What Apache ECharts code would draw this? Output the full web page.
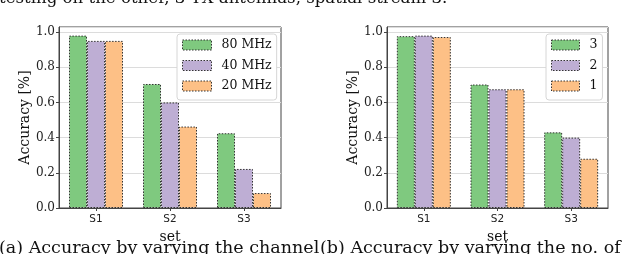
<!DOCTYPE html>
<html><head><meta charset="utf-8">
<script src="https://cdn.jsdelivr.net/npm/echarts@6/dist/echarts.min.js"></script>
<style>html,body{margin:0;padding:0;background:#fff;}#c{width:640px;height:254px;}</style>
</head><body><div id="c"></div>
<script>
const categories = ['S1', 'S2', 'S3'];
const namesA = ['80 MHz', '40 MHz', '20 MHz'];
const valuesA = [
  [0.98, 0.705, 0.425],
  [0.95, 0.60, 0.222],
  [0.95, 0.463, 0.085]
];
const namesB = ['3', '2', '1'];
const valuesB = [
  [0.977, 0.702, 0.43],
  [0.98, 0.675, 0.40],
  [0.972, 0.675, 0.28]
];
const yTicks = [0, 0.2, 0.4, 0.6, 0.8, 1.0];
const topText = 'testing on the other, 3 TX antennas, spatial stream 3.';
const captionA = '(a) Accuracy by varying the channel';
const captionB = '(b) Accuracy by varying the no. of';

const colors = ['#7fc97f', '#beaed4', '#fdc086'];
const serif = '"DejaVu Serif", serif';
const sans = '"DejaVu Sans", sans-serif';
const dots = [1.5, 1.5];

const grids = [
  {left: 59, top: 27, width: 222, height: 181},
  {left: 387, top: 27, width: 221, height: 181}
];

function xAx(i) {
  return {
    type: 'category', data: categories, gridIndex: i,
    name: 'set', nameLocation: 'middle', nameGap: 19,
    nameTextStyle: {fontFamily: serif, fontSize: 14, color: '#111'},
    axisLine: {show: true, lineStyle: {color: '#444', width: 1}},
    axisTick: {show: true, alignWithLabel: true, length: 3, lineStyle: {color: '#444'}},
    axisLabel: {fontFamily: sans, fontSize: 10.5, color: '#222', margin: 6},
    splitLine: {show: false}
  };
}
function yAx(i) {
  return {
    type: 'value', gridIndex: i, min: 0, max: 1.029, interval: 0.2,
    name: 'Accuracy [%]', nameLocation: 'middle', nameGap: 25, nameRotate: 90,
    nameTextStyle: {fontFamily: serif, fontSize: 14, color: '#111'},
    axisLine: {show: true, lineStyle: {color: '#444', width: 1}},
    axisTick: {show: true, length: 3, lineStyle: {color: '#444'}},
    axisLabel: {
      fontFamily: serif, fontSize: 12, color: '#222', margin: 4, showMaxLabel: false,
      formatter: v => (yTicks.some(t => Math.abs(t - v) < 1e-6) ? v.toFixed(1) : '')
    },
    splitLine: {show: true, lineStyle: {color: '#dcdcdc', width: 1}}
  };
}

const series = [];
namesA.forEach((n, k) => series.push({
  name: n, type: 'bar', xAxisIndex: 0, yAxisIndex: 0, data: valuesA[k],
  barWidth: 18, barGap: '0%',
  itemStyle: {color: colors[k], borderColor: '#333', borderWidth: 1, borderType: dots}
}));
namesB.forEach((n, k) => series.push({
  name: n, type: 'bar', xAxisIndex: 1, yAxisIndex: 1, data: valuesB[k],
  barWidth: 18, barGap: '0%',
  itemStyle: {color: colors[k], borderColor: '#333', borderWidth: 1, borderType: dots}
}));

const legendCommon = {
  orient: 'vertical', itemGap: 6.5, icon: 'rect',
  backgroundColor: '#fff', borderColor: '#d6d6d6', borderWidth: 1, borderRadius: 3,
  itemStyle: {borderColor: '#333', borderWidth: 1, borderType: dots},
  textStyle: {fontFamily: serif, fontSize: 12.5, lineHeight: 14, color: '#111', padding: [0, 0, 0, 5]},
  selectedMode: false
};

const chart = echarts.init(document.getElementById('c'), null, {renderer: 'canvas'});
chart.setOption({
  animation: false,
  grid: grids.map(g => Object.assign({show: true, borderColor: '#444', borderWidth: 1, backgroundColor: 'transparent', containLabel: false}, g)),
  xAxis: [xAx(0), xAx(1)],
  yAxis: [yAx(0), yAx(1)],
  legend: [
    Object.assign({}, legendCommon, {data: namesA, left: 177, top: 34, itemWidth: 29, itemHeight: 10, padding: [4, 5, 7, 5]}),
    Object.assign({}, legendCommon, {data: namesB, left: 546, top: 34, itemWidth: 28, itemHeight: 10, padding: [4, 5, 7, 5]})
  ],
  series: series,
  graphic: [
    {type: 'text', left: -1, top: -10, style: {text: topText, font: '16.6px ' + serif, fill: '#111'}},
    {type: 'text', left: -1, top: 239, style: {text: captionA, font: '17.5px ' + serif, fill: '#111'}},
    {type: 'text', left: 320, top: 239, style: {text: captionB, font: '17.5px ' + serif, fill: '#111'}}
  ]
});
</script></body></html>
